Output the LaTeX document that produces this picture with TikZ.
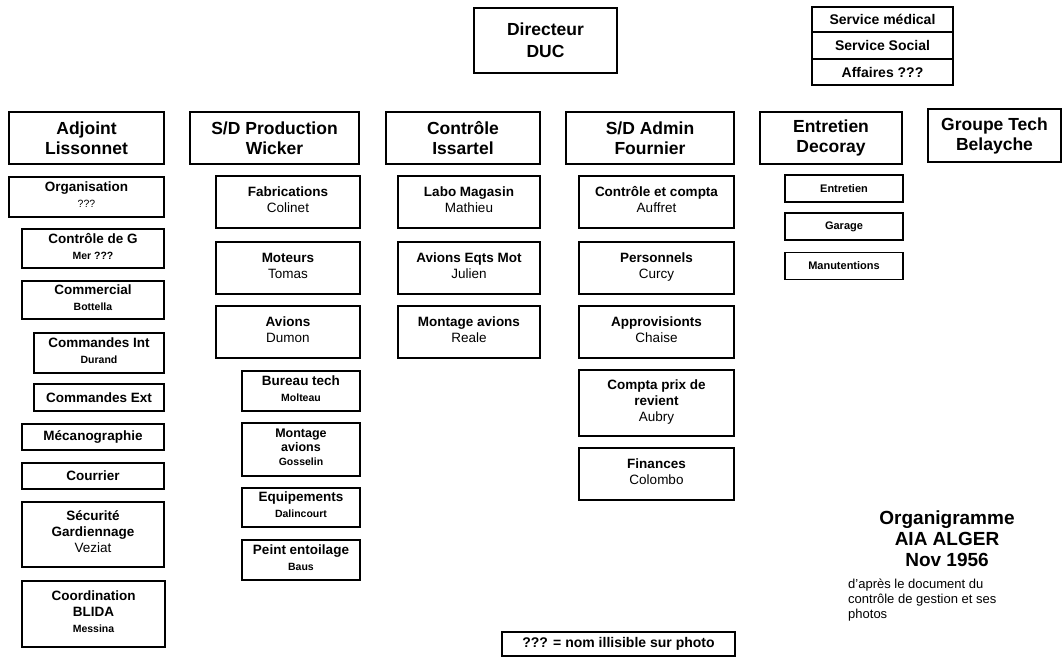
\documentclass[tikz,border=0pt]{standalone}
\usepackage{fontspec}
\setmainfont{Liberation Sans}
\newcommand{\pn}[1]{{\fontsize{10.5}{12}\selectfont #1}}
\newcommand{\nm}[1]{{\mdseries #1}}

\begin{document}
\begin{tikzpicture}[
        x=1pt, y=-1pt,
        tete/.style={draw, line width=1.2pt, inner sep=0pt, align=center,
                     minimum height=52pt, font=\fontsize{17.5}{20}\selectfont\bfseries},
        sous/.style={draw, line width=1.2pt, inner sep=0pt, align=center,
                     text depth=5pt, font=\fontsize{13.5}{16}\selectfont\bfseries},
        mini/.style={draw, line width=1.2pt, inner sep=0pt, align=center,
                     minimum width=118pt, minimum height=27pt,
                     font=\fontsize{11}{12}\selectfont\bfseries},
        titre/.style={align=center, font=\fontsize{19}{21}\selectfont\bfseries}
    ]
        \useasboundingbox (0,0) rectangle (1063,658);
        % direction
        \node[tete, minimum width=143pt, minimum height=65pt,
              font=\fontsize{17.5}{22}\selectfont\bfseries] (dir) at (545.5,40.5) {Directeur\\DUC};
        \node[sous, text depth=, minimum width=141pt, minimum height=25pt,
              font=\fontsize{14}{16}\selectfont\bfseries] (svcmed) at (882.5,19.5) {Service médical};
        \node[sous, text depth=, minimum width=141pt, minimum height=27pt,
              font=\fontsize{14}{16}\selectfont\bfseries] (svcsoc) at (882.5,45.5) {Service Social};
        \node[sous, text depth=, minimum width=141pt, minimum height=26pt,
              font=\fontsize{14}{16}\selectfont\bfseries] (svcaff) at (882.5,72) {Affaires ???};
        % chefs de service
        \node[tete, minimum width=155pt] (adj) at (86.5,138) {Adjoint\\Lissonnet};
        \node[tete, minimum width=169pt] (prod) at (274.5,138) {S/D Production\\Wicker};
        \node[tete, minimum width=154pt] (ctrl) at (463,138) {Contrôle\\Issartel};
        \node[tete, minimum width=168pt] (admin) at (650,138) {S/D Admin\\Fournier};
        \node[tete, minimum width=142pt] (entr) at (831,138) {Entretien\\Decoray};
        \node[tete, minimum width=133pt, minimum height=53pt] (gtech) at (994.5,135.5) {Groupe Tech\\Belayche};
        % adjoint
        \node[sous, minimum width=155pt, minimum height=40pt] (orga) at (86.5,197) {Organisation\\\pn{\mdseries ???}};
        \node[sous, minimum width=142pt, minimum height=39pt] (ctrlg) at (93,248.5) {Contrôle de G\\\pn{Mer ???}};
        \node[sous, minimum width=142pt, minimum height=38pt] (comm) at (93,300) {Commercial\\\pn{Bottella}};
        \node[sous, minimum width=130pt, minimum height=40pt] (cmdint) at (99,353) {Commandes Int\\\pn{Durand}};
        \node[sous, text depth=, minimum width=130pt, minimum height=27pt] (cmdext) at (99,397.5) {Commandes Ext};
        \node[sous, text depth=, minimum width=142pt, minimum height=26pt] (meca) at (93,437) {Mécanographie};
        \node[sous, text depth=, minimum width=142pt, minimum height=26pt] (courrier) at (93,476) {Courrier};
        \node[sous, minimum width=142pt, minimum height=65pt] (secu) at (93,534.5) {Sécurité\\Gardiennage\\\nm{Veziat}};
        \node[sous, minimum width=143pt, minimum height=66pt] (coord) at (93.5,614) {Coordination\\BLIDA\\\pn{Messina}};
        % production
        \node[sous, minimum width=144pt, minimum height=52pt] (fab) at (288,202) {Fabrications\\\nm{Colinet}};
        \node[sous, minimum width=144pt, minimum height=52pt] (mot) at (288,268) {Moteurs\\\nm{Tomas}};
        \node[sous, minimum width=144pt, minimum height=52pt] (avions) at (288,332) {Avions\\\nm{Dumon}};
        \node[sous, minimum width=118pt, minimum height=40pt] (bureau) at (301,391) {Bureau tech\\\pn{Molteau}};
        \node[sous, minimum width=118pt, minimum height=53pt,
              font=\fontsize{12.5}{14}\selectfont\bfseries] (montage) at (301,449.5) {Montage\\avions\\\pn{Gosselin}};
        \node[sous, minimum width=118pt, minimum height=39pt] (equip) at (301,507.5) {Equipements\\\pn{Dalincourt}};
        \node[sous, minimum width=118pt, minimum height=40pt] (peint) at (301,560) {Peint entoilage\\\pn{Baus}};
        % controle
        \node[sous, minimum width=142pt, minimum height=52pt] (labo) at (469,202) {Labo Magasin\\\nm{Mathieu}};
        \node[sous, minimum width=142pt, minimum height=52pt] (aeqm) at (469,268) {Avions Eqts Mot\\\nm{Julien}};
        \node[sous, minimum width=142pt, minimum height=52pt] (montav) at (469,332) {Montage avions\\\nm{Reale}};
        % administration
        \node[sous, minimum width=155pt, minimum height=52pt] (ctrlc) at (656.5,202) {Contrôle et compta\\\nm{Auffret}};
        \node[sous, minimum width=155pt, minimum height=52pt] (perso) at (656.5,268) {Personnels\\\nm{Curcy}};
        \node[sous, minimum width=155pt, minimum height=52pt] (appro) at (656.5,332) {Approvisionts\\\nm{Chaise}};
        \node[sous, minimum width=155pt, minimum height=66pt] (prix) at (656.5,403) {Compta prix de\\revient\\\nm{Aubry}};
        \node[sous, minimum width=155pt, minimum height=52pt] (fin) at (656.5,474) {Finances\\\nm{Colombo}};
        % entretien
        \node[mini] (entretien) at (844,188.5) {Entretien};
        \node[mini] (garage) at (844,226.5) {Garage};
        \node[mini] (manut) at (844,266) {Manutentions};
        % legende
        \node[sous, text depth=, minimum width=233pt, minimum height=24pt,
              font=\fontsize{14}{16}\selectfont\bfseries] (note) at (618.5,644) {??? = nom illisible sur photo};
        \node[titre] (titre) at (947,539) {Organigramme\\AIA ALGER\\Nov 1956};
        \node[align=left, inner sep=0pt, anchor=north west,
              font=\fontsize{13}{15}\selectfont] (source) at (848,579) {d'après le document du\\contrôle de gestion et ses\\photos};
    \end{tikzpicture}
\end{document}
